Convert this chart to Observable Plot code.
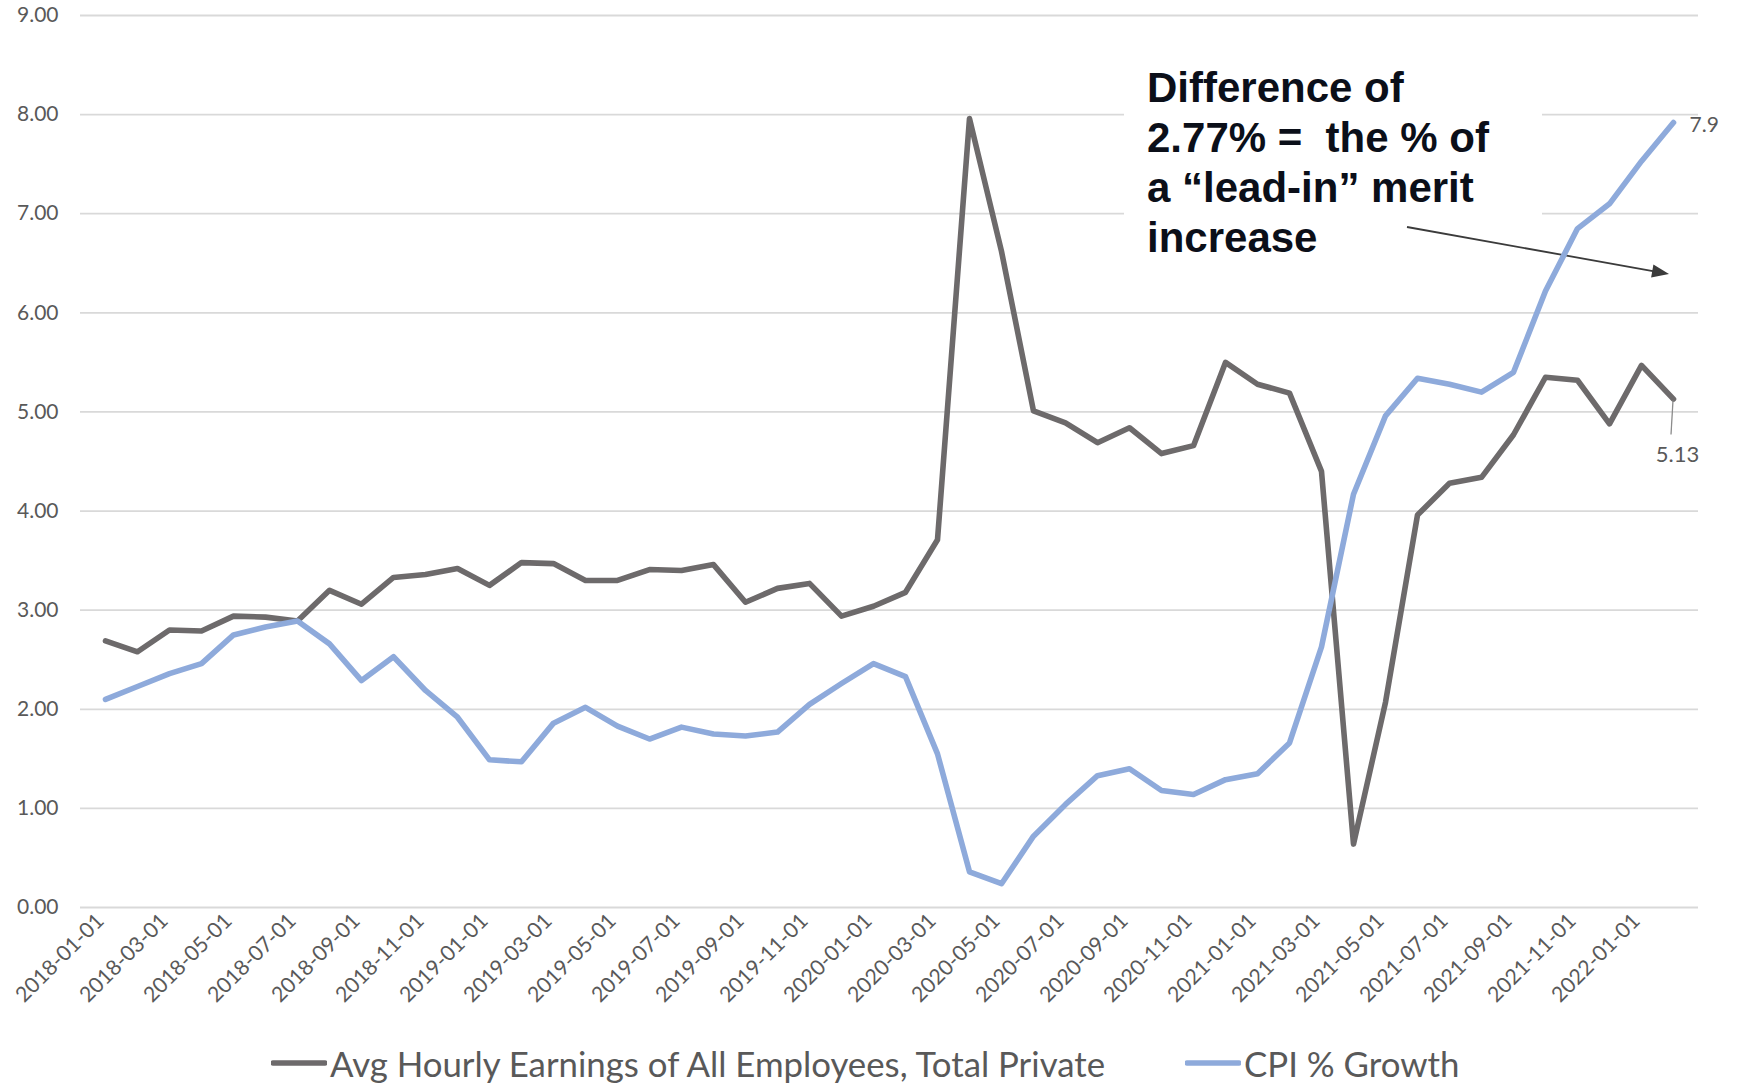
<!DOCTYPE html>
<html>
<head>
<meta charset="utf-8">
<script src="https://cdn.jsdelivr.net/npm/d3@7"></script>
<script src="https://cdn.jsdelivr.net/npm/@observablehq/plot@0.6"></script>
<style>
  html, body { margin: 0; padding: 0; background: #ffffff; }
  #wrap { position: relative; width: 1737px; height: 1084px; overflow: hidden; background: #fff; }
  #legend { position: absolute; left: 271px; top: 1041px; height: 44px; display: flex; align-items: center;
            font-family: Lato, "Open Sans", sans-serif; font-size: 34.8px; color: #595959; white-space: nowrap; }
  .item { display: flex; align-items: center; }
  .item + .item { margin-left: 80px; }
  .item svg { margin-right: 3px; }
</style>
</head>
<body>
<div id="wrap"><div id="chart"></div>
  <div id="legend"></div>
</div>
<script>
// ---- data ----
const dates = [
  "2018-01-01","2018-02-01","2018-03-01","2018-04-01","2018-05-01","2018-06-01","2018-07-01","2018-08-01","2018-09-01","2018-10-01","2018-11-01","2018-12-01",
  "2019-01-01","2019-02-01","2019-03-01","2019-04-01","2019-05-01","2019-06-01","2019-07-01","2019-08-01","2019-09-01","2019-10-01","2019-11-01","2019-12-01",
  "2020-01-01","2020-02-01","2020-03-01","2020-04-01","2020-05-01","2020-06-01","2020-07-01","2020-08-01","2020-09-01","2020-10-01","2020-11-01","2020-12-01",
  "2021-01-01","2021-02-01","2021-03-01","2021-04-01","2021-05-01","2021-06-01","2021-07-01","2021-08-01","2021-09-01","2021-10-01","2021-11-01","2021-12-01",
  "2022-01-01","2022-02-01"
];
const earnings = [
  2.69, 2.58, 2.80, 2.79, 2.94, 2.93, 2.89, 3.20, 3.06, 3.33, 3.36, 3.42,
  3.25, 3.48, 3.47, 3.30, 3.30, 3.41, 3.40, 3.46, 3.08, 3.22, 3.27, 2.94,
  3.04, 3.18, 3.71, 7.96, 6.62, 5.01, 4.89, 4.69, 4.84, 4.58, 4.66, 5.50,
  5.28, 5.19, 4.40, 0.64, 2.07, 3.96, 4.28, 4.34, 4.77, 5.35, 5.32, 4.88,
  5.47, 5.13
];
const cpi = [
  2.10, 2.23, 2.36, 2.46, 2.75, 2.83, 2.89, 2.66, 2.29, 2.53, 2.19, 1.92,
  1.49, 1.47, 1.86, 2.02, 1.83, 1.70, 1.82, 1.75, 1.73, 1.77, 2.05, 2.26,
  2.46, 2.33, 1.55, 0.36, 0.24, 0.72, 1.04, 1.33, 1.40, 1.18, 1.14, 1.29,
  1.35, 1.66, 2.63, 4.17, 4.96, 5.34, 5.28, 5.20, 5.40, 6.22, 6.85, 7.10,
  7.53, 7.92
];
const xTickLabels = [
  "2018-01-01","2018-03-01","2018-05-01","2018-07-01","2018-09-01","2018-11-01",
  "2019-01-01","2019-03-01","2019-05-01","2019-07-01","2019-09-01","2019-11-01",
  "2020-01-01","2020-03-01","2020-05-01","2020-07-01","2020-09-01","2020-11-01",
  "2021-01-01","2021-03-01","2021-05-01","2021-07-01","2021-09-01","2021-11-01",
  "2022-01-01"
];
const yTicks = [0, 1, 2, 3, 4, 5, 6, 7, 8, 9];
const seriesNames = ["Avg Hourly Earnings of All Employees, Total Private", "CPI % Growth"];
const endLabels = ["5.13", "7.9"];
const annotationLines = ["Difference of", "2.77% =  the % of", "a \u201Clead-in\u201D merit", "increase"];

const GREY = "#6d6a6b";
const BLUE = "#8eaadb";

const table = dates.map((d, i) => ({date: d, earnings: earnings[i], cpi: cpi[i]}));
const last = table[table.length - 1];

// annotation (white box, bold text, arrow)
function annotation(index, scales, values, dims) {
  const g = d3.create("svg:g");
  g.append("rect").attr("x", 1124).attr("y", 58).attr("width", 418).attr("height", 212).attr("fill", "#ffffff");
  const t = g.append("text")
    .attr("font-family", "'Liberation Sans', Arial, Helvetica, sans-serif")
    .attr("font-weight", "bold").attr("font-size", 42).attr("fill", "#0b0f19")
    .attr("text-anchor", "start")
    .attr("xml:space", "preserve").style("white-space", "pre");
  annotationLines.forEach((s, i) => t.append("tspan").attr("x", 1147).attr("y", 101.7 + 50 * i).text(s));
  const x1 = 1407, y1 = 227, x2 = 1669, y2 = 274;
  const dx = x2 - x1, dy = y2 - y1, L = Math.hypot(dx, dy), ux = dx / L, uy = dy / L;
  const hl = 17, hw = 6.5, bx = x2 - hl * ux, by = y2 - hl * uy;
  g.append("line").attr("x1", x1).attr("y1", y1).attr("x2", bx + 2 * ux).attr("y2", by + 2 * uy)
    .attr("stroke", "#3b3b3b").attr("stroke-width", 1.8);
  g.append("polygon").attr("points", [[x2, y2], [bx - uy * hw, by + ux * hw], [bx + uy * hw, by - ux * hw]].map(p => p.join(",")).join(" "))
    .attr("fill", "#3b3b3b");
  return g.node();
}

// leader line for the 5.13 label
function leader(index, scales) {
  const px = scales.x(last.date), py = scales.y(last.earnings);
  const g = d3.create("svg:g");
  g.append("line").attr("x1", px).attr("y1", py + 2).attr("x2", px - 2).attr("y2", py + 36)
    .attr("stroke", "#8c8c8c").attr("stroke-width", 1.3);
  return g.node();
}

const chart = Plot.plot({
  width: 1737,
  height: 1040,
  marginLeft: 80,
  marginRight: 39,
  marginTop: 15,
  marginBottom: 133,
  style: {fontFamily: "Lato, 'Open Sans', sans-serif", background: "#ffffff", color: "#595959", overflow: "visible"},
  x: {type: "point", domain: dates, padding: 0.5},
  y: {domain: [0, 9]},
  marks: [
    Plot.ruleY(yTicks, {stroke: "#d9d9d9", strokeWidth: 1.8}),
    Plot.axisY(yTicks, {tickSize: 0, tickPadding: 22, tickFormat: d => d.toFixed(2), fontSize: 21, label: null}),
    Plot.axisX(xTickLabels, {tickSize: 0, tickPadding: 10, tickRotate: -45, fontSize: 21.3, dx: -5, label: null}),
    annotation,
    Plot.line(table, {x: "date", y: "earnings", stroke: GREY, strokeWidth: 5.6, strokeLinejoin: "round", strokeLinecap: "round"}),
    Plot.line(table, {x: "date", y: "cpi", stroke: BLUE, strokeWidth: 5.6, strokeLinejoin: "round", strokeLinecap: "round"}),
    leader,
    Plot.text([last], {x: "date", y: "cpi", text: () => endLabels[1], dx: 16, dy: 3, textAnchor: "start", fontSize: 21, fill: "#595959"}),
    Plot.text([last], {x: "date", y: "earnings", text: () => endLabels[0], dx: 4, dy: 56, textAnchor: "middle", fontSize: 22, fill: "#595959"})
  ]
});
document.getElementById("chart").appendChild(chart);

// legend
const legend = d3.select("#legend");
[[seriesNames[0], GREY], [seriesNames[1], BLUE]].forEach(([name, color]) => {
  const it = legend.append("div").attr("class", "item");
  const s = it.append("svg").attr("width", 56).attr("height", 12);
  s.append("line").attr("x1", 2).attr("x2", 54).attr("y1", 6).attr("y2", 6)
    .attr("stroke", color).attr("stroke-width", 5.5).attr("stroke-linecap", "round");
  it.append("span").text(name);
});
</script>
</body>
</html>
